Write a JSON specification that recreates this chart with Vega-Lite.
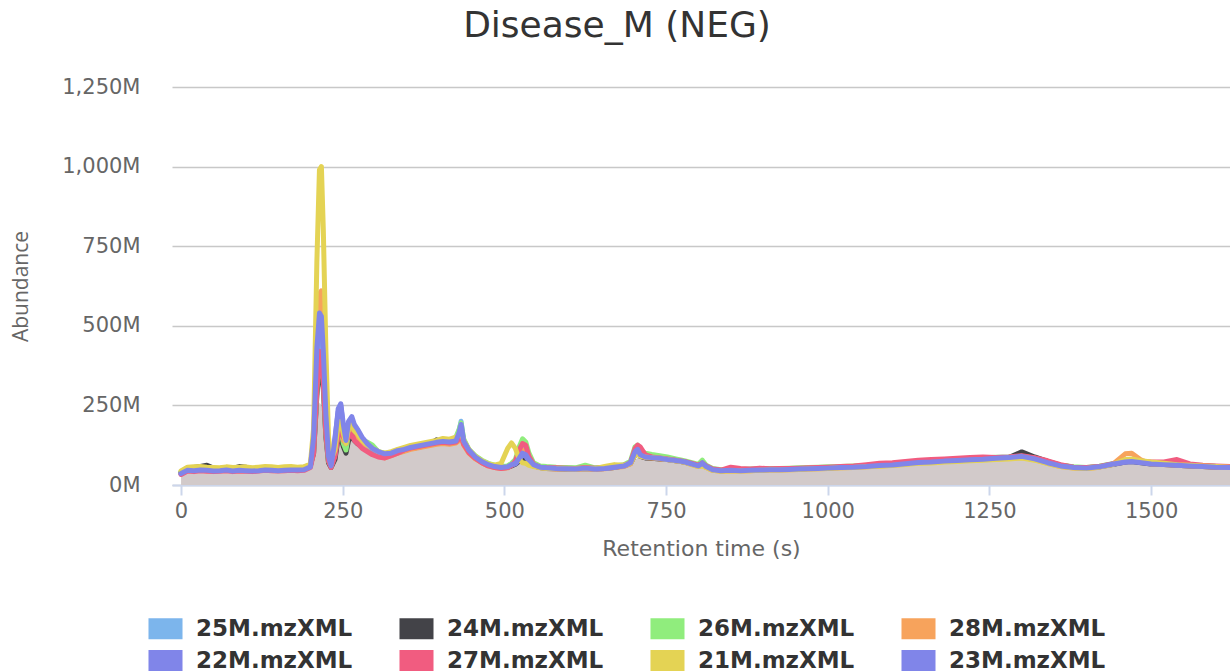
{
  "$schema": "https://vega.github.io/schema/vega-lite/v6.json",
  "width": 1058,
  "height": 398,
  "autosize": {"type": "none"},
  "padding": {"left": 172, "top": 87, "right": 0, "bottom": 186},
  "background": "white",
  "config": {"view": {"stroke": null}},
  "title": {"text": "Disease_M (NEG)", "font": "DejaVu Sans", "fontSize": 36, "fontWeight": "normal", "color": "#333333", "anchor": "middle", "dx": -84, "offset": 31},
  "data": {"values": [
    {"t":0,"25M":38,"24M":40,"26M":42,"28M":36,"22M":35,"27M":33,"21M":44,"23M":36,"area":30},
    {"t":10,"25M":50,"24M":52,"26M":53,"28M":48,"22M":47,"27M":44,"21M":56,"23M":46,"area":41},
    {"t":20,"25M":48,"24M":55,"26M":52,"28M":47,"22M":46,"27M":42,"21M":57,"23M":45,"area":39},
    {"t":30,"25M":52,"24M":58,"26M":54,"28M":49,"22M":48,"27M":45,"21M":58,"23M":47,"area":42},
    {"t":40,"25M":49,"24M":62,"26M":52,"28M":48,"22M":47,"27M":43,"21M":56,"23M":46,"area":40},
    {"t":50,"25M":47,"24M":53,"26M":50,"28M":46,"22M":45,"27M":42,"21M":55,"23M":44,"area":39},
    {"t":60,"25M":49,"24M":52,"26M":51,"28M":47,"22M":46,"27M":43,"21M":54,"23M":45,"area":40},
    {"t":70,"25M":51,"24M":55,"26M":53,"28M":50,"22M":48,"27M":45,"21M":57,"23M":47,"area":42},
    {"t":80,"25M":48,"24M":52,"26M":50,"28M":47,"22M":46,"27M":42,"21M":55,"23M":44,"area":39},
    {"t":90,"25M":50,"24M":58,"26M":52,"28M":49,"22M":47,"27M":44,"21M":56,"23M":46,"area":41},
    {"t":100,"25M":49,"24M":56,"26M":51,"28M":48,"22M":46,"27M":43,"21M":57,"23M":45,"area":40},
    {"t":110,"25M":47,"24M":51,"26M":50,"28M":46,"22M":45,"27M":42,"21M":54,"23M":44,"area":39},
    {"t":120,"25M":49,"24M":52,"26M":52,"28M":48,"22M":46,"27M":44,"21M":56,"23M":45,"area":41},
    {"t":130,"25M":51,"24M":54,"26M":53,"28M":50,"22M":48,"27M":46,"21M":58,"23M":47,"area":43},
    {"t":140,"25M":50,"24M":53,"26M":52,"28M":49,"22M":47,"27M":45,"21M":57,"23M":46,"area":42},
    {"t":150,"25M":49,"24M":52,"26M":51,"28M":48,"22M":46,"27M":44,"21M":55,"23M":45,"area":41},
    {"t":160,"25M":50,"24M":54,"26M":52,"28M":49,"22M":47,"27M":45,"21M":57,"23M":46,"area":42},
    {"t":170,"25M":51,"24M":55,"26M":53,"28M":50,"22M":48,"27M":46,"21M":58,"23M":47,"area":43},
    {"t":180,"25M":50,"24M":53,"26M":52,"28M":50,"22M":48,"27M":45,"21M":56,"23M":47,"area":42},
    {"t":190,"25M":51,"24M":55,"26M":53,"28M":51,"22M":49,"27M":46,"21M":57,"23M":48,"area":43},
    {"t":200,"25M":60,"24M":62,"26M":60,"28M":62,"22M":58,"27M":55,"21M":66,"23M":57,"area":50},
    {"t":205,"25M":120,"24M":100,"26M":110,"28M":140,"22M":130,"27M":100,"21M":180,"23M":150,"area":80},
    {"t":210,"25M":330,"24M":280,"26M":300,"28M":450,"22M":420,"27M":300,"21M":700,"23M":430,"area":200},
    {"t":214,"25M":450,"24M":380,"26M":420,"28M":600,"22M":530,"27M":420,"21M":990,"23M":540,"area":260},
    {"t":217,"25M":440,"24M":360,"26M":400,"28M":610,"22M":520,"27M":400,"21M":1000,"23M":530,"area":250},
    {"t":220,"25M":350,"24M":300,"26M":320,"28M":480,"22M":420,"27M":320,"21M":800,"23M":420,"area":200},
    {"t":224,"25M":180,"24M":150,"26M":160,"28M":250,"22M":230,"27M":160,"21M":420,"23M":220,"area":120},
    {"t":228,"25M":80,"24M":70,"26M":75,"28M":100,"22M":90,"27M":75,"21M":150,"23M":90,"area":62},
    {"t":232,"25M":60,"24M":55,"26M":58,"28M":65,"22M":62,"27M":55,"21M":80,"23M":60,"area":50},
    {"t":238,"25M":90,"24M":80,"26M":95,"28M":100,"22M":150,"27M":90,"21M":110,"23M":140,"area":75},
    {"t":243,"25M":180,"24M":150,"26M":170,"28M":170,"22M":230,"27M":160,"21M":190,"23M":240,"area":130},
    {"t":247,"25M":200,"24M":150,"26M":180,"28M":180,"22M":250,"27M":170,"21M":200,"23M":255,"area":140},
    {"t":251,"25M":150,"24M":120,"26M":130,"28M":140,"22M":180,"27M":150,"21M":160,"23M":190,"area":115},
    {"t":255,"25M":120,"24M":100,"26M":110,"28M":130,"22M":130,"27M":140,"21M":130,"23M":140,"area":100},
    {"t":259,"25M":170,"24M":140,"26M":160,"28M":160,"22M":190,"27M":150,"21M":180,"23M":200,"area":130},
    {"t":264,"25M":190,"24M":150,"26M":180,"28M":170,"22M":200,"27M":160,"21M":190,"23M":215,"area":140},
    {"t":268,"25M":170,"24M":140,"26M":160,"28M":150,"22M":180,"27M":140,"21M":170,"23M":190,"area":135},
    {"t":273,"25M":160,"24M":130,"26M":150,"28M":140,"22M":170,"27M":130,"21M":160,"23M":175,"area":125},
    {"t":280,"25M":140,"24M":120,"26M":140,"28M":125,"22M":145,"27M":115,"21M":140,"23M":150,"area":112},
    {"t":288,"25M":125,"24M":110,"26M":135,"28M":110,"22M":125,"27M":105,"21M":125,"23M":130,"area":102},
    {"t":296,"25M":110,"24M":100,"26M":125,"28M":100,"22M":110,"27M":95,"21M":115,"23M":115,"area":92},
    {"t":305,"25M":100,"24M":95,"26M":105,"28M":90,"22M":100,"27M":88,"21M":105,"23M":105,"area":85},
    {"t":315,"25M":95,"24M":90,"26M":100,"28M":85,"22M":95,"27M":85,"21M":100,"23M":98,"area":82},
    {"t":325,"25M":100,"24M":95,"26M":102,"28M":92,"22M":98,"27M":92,"21M":105,"23M":100,"area":88},
    {"t":335,"25M":108,"24M":102,"26M":110,"28M":100,"22M":105,"27M":100,"21M":112,"23M":108,"area":96},
    {"t":345,"25M":112,"24M":108,"26M":114,"28M":106,"22M":112,"27M":110,"21M":118,"23M":112,"area":102},
    {"t":355,"25M":118,"24M":115,"26M":120,"28M":112,"22M":118,"27M":116,"21M":124,"23M":118,"area":108},
    {"t":365,"25M":122,"24M":118,"26M":125,"28M":116,"22M":122,"27M":120,"21M":128,"23M":122,"area":112},
    {"t":375,"25M":125,"24M":122,"26M":128,"28M":120,"22M":126,"27M":124,"21M":132,"23M":126,"area":116},
    {"t":385,"25M":130,"24M":128,"26M":132,"28M":124,"22M":130,"27M":128,"21M":136,"23M":130,"area":120},
    {"t":395,"25M":135,"24M":142,"26M":136,"28M":128,"22M":134,"27M":132,"21M":140,"23M":134,"area":124},
    {"t":405,"25M":138,"24M":135,"26M":140,"28M":130,"22M":137,"27M":134,"21M":146,"23M":137,"area":126},
    {"t":415,"25M":136,"24M":134,"26M":138,"28M":128,"22M":135,"27M":132,"21M":144,"23M":135,"area":124},
    {"t":425,"25M":140,"24M":138,"26M":150,"28M":132,"22M":138,"27M":135,"21M":150,"23M":138,"area":128},
    {"t":430,"25M":170,"24M":150,"26M":175,"28M":140,"22M":160,"27M":145,"21M":160,"23M":165,"area":132},
    {"t":433,"25M":200,"24M":160,"26M":195,"28M":150,"22M":185,"27M":155,"21M":170,"23M":190,"area":135},
    {"t":437,"25M":140,"24M":130,"26M":145,"28M":125,"22M":135,"27M":128,"21M":140,"23M":138,"area":120},
    {"t":445,"25M":110,"24M":105,"26M":112,"28M":100,"22M":108,"27M":102,"21M":112,"23M":110,"area":96},
    {"t":455,"25M":90,"24M":85,"26M":92,"28M":82,"22M":88,"27M":84,"21M":90,"23M":88,"area":78},
    {"t":465,"25M":75,"24M":72,"26M":78,"28M":70,"22M":74,"27M":70,"21M":76,"23M":74,"area":66},
    {"t":475,"25M":65,"24M":62,"26M":68,"28M":60,"22M":64,"27M":60,"21M":66,"23M":64,"area":56},
    {"t":485,"25M":60,"24M":57,"26M":62,"28M":55,"22M":58,"27M":55,"21M":62,"23M":58,"area":51},
    {"t":495,"25M":56,"24M":54,"26M":58,"28M":52,"22M":55,"27M":52,"21M":68,"23M":55,"area":48},
    {"t":505,"25M":58,"24M":55,"26M":60,"28M":54,"22M":56,"27M":55,"21M":115,"23M":57,"area":50},
    {"t":511,"25M":65,"24M":60,"26M":68,"28M":62,"22M":62,"27M":62,"21M":132,"23M":64,"area":56},
    {"t":517,"25M":70,"24M":65,"26M":80,"28M":70,"22M":66,"27M":75,"21M":115,"23M":68,"area":61},
    {"t":523,"25M":95,"24M":75,"26M":120,"28M":90,"22M":80,"27M":110,"21M":80,"23M":85,"area":68},
    {"t":528,"25M":120,"24M":85,"26M":145,"28M":110,"22M":95,"27M":130,"21M":70,"23M":100,"area":66},
    {"t":533,"25M":110,"24M":80,"26M":135,"28M":100,"22M":90,"27M":125,"21M":68,"23M":95,"area":64},
    {"t":538,"25M":85,"24M":70,"26M":100,"28M":80,"22M":75,"27M":90,"21M":62,"23M":80,"area":58},
    {"t":545,"25M":68,"24M":60,"26M":70,"28M":64,"22M":62,"27M":65,"21M":58,"23M":64,"area":54},
    {"t":555,"25M":58,"24M":55,"26M":60,"28M":55,"22M":55,"27M":56,"21M":54,"23M":56,"area":50},
    {"t":565,"25M":55,"24M":52,"26M":58,"28M":52,"22M":53,"27M":54,"21M":52,"23M":54,"area":48},
    {"t":580,"25M":54,"24M":51,"26M":56,"28M":50,"22M":52,"27M":54,"21M":52,"23M":52,"area":46},
    {"t":595,"25M":53,"24M":50,"26M":55,"28M":50,"22M":51,"27M":53,"21M":51,"23M":51,"area":46},
    {"t":610,"25M":52,"24M":50,"26M":54,"28M":49,"22M":50,"27M":52,"21M":50,"23M":50,"area":45},
    {"t":625,"25M":55,"24M":52,"26M":62,"28M":52,"22M":53,"27M":55,"21M":53,"23M":53,"area":48},
    {"t":640,"25M":52,"24M":50,"26M":54,"28M":49,"22M":50,"27M":53,"21M":51,"23M":50,"area":45},
    {"t":655,"25M":54,"24M":52,"26M":56,"28M":51,"22M":52,"27M":54,"21M":58,"23M":52,"area":47},
    {"t":670,"25M":58,"24M":55,"26M":60,"28M":55,"22M":56,"27M":58,"21M":64,"23M":56,"area":51},
    {"t":685,"25M":62,"24M":60,"26M":64,"28M":58,"22M":60,"27M":62,"21M":62,"23M":60,"area":54},
    {"t":695,"25M":72,"24M":68,"26M":75,"28M":66,"22M":70,"27M":70,"21M":68,"23M":70,"area":62},
    {"t":702,"25M":110,"24M":95,"26M":120,"28M":100,"22M":105,"27M":115,"21M":95,"23M":105,"area":80},
    {"t":706,"25M":120,"24M":100,"26M":125,"28M":105,"22M":110,"27M":125,"21M":100,"23M":112,"area":85},
    {"t":710,"25M":100,"24M":90,"26M":105,"28M":92,"22M":95,"27M":120,"21M":90,"23M":95,"area":84},
    {"t":718,"25M":90,"24M":85,"26M":100,"28M":86,"22M":88,"27M":95,"21M":88,"23M":88,"area":81},
    {"t":728,"25M":88,"24M":84,"26M":96,"28M":85,"22M":86,"27M":88,"21M":86,"23M":86,"area":80},
    {"t":740,"25M":85,"24M":82,"26M":92,"28M":82,"22M":84,"27M":85,"21M":84,"23M":84,"area":78},
    {"t":752,"25M":82,"24M":80,"26M":88,"28M":80,"22M":80,"27M":82,"21M":80,"23M":80,"area":76},
    {"t":765,"25M":78,"24M":76,"26M":82,"28M":76,"22M":77,"27M":78,"21M":76,"23M":77,"area":72},
    {"t":778,"25M":74,"24M":72,"26M":76,"28M":72,"22M":73,"27M":74,"21M":72,"23M":73,"area":68},
    {"t":790,"25M":68,"24M":66,"26M":70,"28M":64,"22M":66,"27M":68,"21M":64,"23M":66,"area":60},
    {"t":800,"25M":62,"24M":60,"26M":65,"28M":58,"22M":60,"27M":62,"21M":58,"23M":60,"area":54},
    {"t":806,"25M":72,"24M":64,"26M":78,"28M":62,"22M":70,"27M":68,"21M":60,"23M":68,"area":56},
    {"t":812,"25M":60,"24M":58,"26M":62,"28M":55,"22M":58,"27M":60,"21M":55,"23M":58,"area":51},
    {"t":822,"25M":50,"24M":48,"26M":52,"28M":46,"22M":48,"27M":50,"21M":46,"23M":48,"area":42},
    {"t":835,"25M":46,"24M":45,"26M":48,"28M":43,"22M":45,"27M":47,"21M":43,"23M":45,"area":39},
    {"t":850,"25M":48,"24M":46,"26M":50,"28M":44,"22M":47,"27M":56,"21M":44,"23M":46,"area":40},
    {"t":865,"25M":47,"24M":46,"26M":49,"28M":44,"22M":46,"27M":52,"21M":44,"23M":45,"area":40},
    {"t":880,"25M":48,"24M":47,"26M":50,"28M":45,"22M":47,"27M":50,"21M":45,"23M":46,"area":41},
    {"t":895,"25M":49,"24M":48,"26M":51,"28M":46,"22M":48,"27M":53,"21M":46,"23M":47,"area":42},
    {"t":910,"25M":50,"24M":49,"26M":52,"28M":47,"22M":49,"27M":51,"21M":47,"23M":48,"area":43},
    {"t":925,"25M":50,"24M":49,"26M":52,"28M":47,"22M":49,"27M":52,"21M":47,"23M":48,"area":43},
    {"t":940,"25M":51,"24M":50,"26M":53,"28M":48,"22M":50,"27M":52,"21M":48,"23M":49,"area":44},
    {"t":955,"25M":52,"24M":51,"26M":54,"28M":49,"22M":51,"27M":53,"21M":49,"23M":50,"area":45},
    {"t":970,"25M":53,"24M":52,"26M":55,"28M":50,"22M":52,"27M":54,"21M":50,"23M":51,"area":46},
    {"t":985,"25M":54,"24M":53,"26M":56,"28M":51,"22M":53,"27M":55,"21M":51,"23M":52,"area":47},
    {"t":1000,"25M":55,"24M":54,"26M":57,"28M":52,"22M":54,"27M":56,"21M":52,"23M":53,"area":48},
    {"t":1020,"25M":57,"24M":56,"26M":58,"28M":54,"22M":56,"27M":58,"21M":54,"23M":55,"area":50},
    {"t":1040,"25M":58,"24M":57,"26M":60,"28M":55,"22M":57,"27M":60,"21M":55,"23M":56,"area":51},
    {"t":1060,"25M":60,"24M":59,"26M":62,"28M":57,"22M":59,"27M":64,"21M":57,"23M":58,"area":53},
    {"t":1080,"25M":63,"24M":62,"26M":65,"28M":60,"22M":62,"27M":68,"21M":59,"23M":61,"area":55},
    {"t":1100,"25M":65,"24M":64,"26M":67,"28M":62,"22M":64,"27M":70,"21M":61,"23M":63,"area":57},
    {"t":1120,"25M":70,"24M":68,"26M":71,"28M":66,"22M":68,"27M":74,"21M":64,"23M":67,"area":60},
    {"t":1140,"25M":74,"24M":72,"26M":75,"28M":70,"22M":72,"27M":78,"21M":68,"23M":71,"area":64},
    {"t":1160,"25M":75,"24M":74,"26M":76,"28M":71,"22M":74,"27M":80,"21M":69,"23M":72,"area":65},
    {"t":1180,"25M":78,"24M":80,"26M":79,"28M":74,"22M":77,"27M":82,"21M":72,"23M":75,"area":68},
    {"t":1200,"25M":80,"24M":78,"26M":81,"28M":76,"22M":78,"27M":84,"21M":74,"23M":77,"area":70},
    {"t":1220,"25M":82,"24M":80,"26M":83,"28M":78,"22M":80,"27M":86,"21M":76,"23M":79,"area":72},
    {"t":1240,"25M":84,"24M":82,"26M":85,"28M":80,"22M":82,"27M":88,"21M":78,"23M":81,"area":74},
    {"t":1260,"25M":86,"24M":84,"26M":87,"28M":82,"22M":84,"27M":86,"21M":80,"23M":84,"area":76},
    {"t":1280,"25M":88,"24M":86,"26M":88,"28M":84,"22M":86,"27M":88,"21M":82,"23M":86,"area":78},
    {"t":1300,"25M":92,"24M":104,"26M":90,"28M":86,"22M":90,"27M":92,"21M":85,"23M":90,"area":81},
    {"t":1320,"25M":84,"24M":88,"26M":84,"28M":80,"22M":82,"27M":86,"21M":78,"23M":82,"area":74},
    {"t":1340,"25M":72,"24M":74,"26M":72,"28M":68,"22M":70,"27M":76,"21M":67,"23M":70,"area":63},
    {"t":1360,"25M":62,"24M":62,"26M":62,"28M":58,"22M":60,"27M":64,"21M":58,"23M":60,"area":54},
    {"t":1380,"25M":56,"24M":56,"26M":57,"28M":53,"22M":55,"27M":56,"21M":53,"23M":55,"area":49},
    {"t":1400,"25M":54,"24M":54,"26M":55,"28M":52,"22M":53,"27M":55,"21M":52,"23M":53,"area":48},
    {"t":1420,"25M":58,"24M":57,"26M":59,"28M":56,"22M":57,"27M":58,"21M":56,"23M":57,"area":52},
    {"t":1440,"25M":66,"24M":64,"26M":67,"28M":64,"22M":65,"27M":66,"21M":64,"23M":65,"area":60},
    {"t":1460,"25M":74,"24M":72,"26M":75,"28M":98,"22M":72,"27M":74,"21M":80,"23M":72,"area":68},
    {"t":1470,"25M":76,"24M":74,"26M":77,"28M":100,"22M":74,"27M":76,"21M":82,"23M":74,"area":70},
    {"t":1485,"25M":72,"24M":70,"26M":73,"28M":78,"22M":72,"27M":74,"21M":76,"23M":70,"area":66},
    {"t":1500,"25M":68,"24M":66,"26M":69,"28M":66,"22M":68,"27M":72,"21M":72,"23M":66,"area":62},
    {"t":1520,"25M":66,"24M":64,"26M":67,"28M":64,"22M":65,"27M":72,"21M":68,"23M":64,"area":60},
    {"t":1540,"25M":64,"24M":62,"26M":65,"28M":62,"22M":63,"27M":80,"21M":64,"23M":62,"area":58},
    {"t":1560,"25M":62,"24M":60,"26M":63,"28M":60,"22M":61,"27M":66,"21M":62,"23M":60,"area":56},
    {"t":1580,"25M":60,"24M":58,"26M":61,"28M":58,"22M":59,"27M":62,"21M":60,"23M":58,"area":54},
    {"t":1600,"25M":58,"24M":56,"26M":59,"28M":56,"22M":57,"27M":60,"21M":58,"23M":56,"area":52},
    {"t":1622,"25M":57,"24M":55,"26M":58,"28M":55,"22M":56,"27M":58,"21M":56,"23M":55,"area":51}
  ]},
  "encoding": {
    "x": {"field": "t", "type": "quantitative",
      "scale": {"domain": [-14, 1622], "nice": false, "zero": false},
      "axis": {"title": "Retention time (s)", "values": [0, 250, 500, 750, 1000, 1250, 1500], "format": "d",
        "grid": false, "domainColor": "#ccd6eb", "tickColor": "#ccd6eb", "tickSize": 10, "tickWidth": 2, "domainWidth": 2,
        "labelFont": "DejaVu Sans", "labelFontSize": 21, "labelColor": "#666666", "labelPadding": 5,
        "titleFont": "DejaVu Sans", "titleFontSize": 22, "titleFontWeight": "normal", "titleColor": "#666666", "titlePadding": 17}}
  },
  "layer": [
    {"mark": {"type": "area", "color": "#d2caca", "opacity": 1},
     "encoding": {"y": {"field": "area", "type": "quantitative"}}},
    {"transform": [{"fold": ["25M", "24M", "26M", "28M", "22M", "27M", "21M", "23M"], "as": ["series", "value"]}],
     "mark": {"type": "line", "strokeWidth": 5, "strokeJoin": "round", "strokeCap": "round"},
     "encoding": {
       "y": {"field": "value", "type": "quantitative",
         "scale": {"domain": [0, 1250], "nice": false},
         "axis": {"title": "Abundance", "values": [0, 250, 500, 750, 1000, 1250],
           "labelExpr": "datum.value == 0 ? '0M' : format(datum.value, ',') + 'M'",
           "domain": false, "ticks": false, "grid": true, "gridColor": "#c8c8c8", "gridWidth": 1.5,
           "labelFont": "DejaVu Sans", "labelFontSize": 21, "labelColor": "#666666", "labelPadding": 32,
           "titleFont": "Open Sans", "titleFontSize": 21, "titleFontWeight": "normal", "titleColor": "#666666", "titlePadding": 30}},
       "color": {"field": "series", "type": "nominal",
         "scale": {"domain": ["25M", "24M", "26M", "28M", "22M", "27M", "21M", "23M"],
                   "range": ["#7cb5ec", "#434348", "#90ed7d", "#f7a35c", "#8085e9", "#f15c80", "#e4d354", "#8085e9"]},
         "legend": {"title": null, "orient": "none", "legendX": -18, "legendY": 530, "direction": "horizontal", "columns": 4,
           "symbolType": "M-1.62,-1H1.62V1H-1.62Z", "symbolSize": 441, "symbolStrokeWidth": 0,
           "labelExpr": "datum.label + '.mzXML'",
           "labelFont": "DejaVu Sans", "labelFontSize": 23, "labelFontWeight": "bold", "labelColor": "#333333",
           "labelOffset": 19, "columnPadding": 46, "rowPadding": 8,
           "encode": {"symbols": {"update": {"fill": {"scale": "color", "field": "value"}, "strokeWidth": {"value": 0}, "opacity": {"value": 1}}}}}}
     }}
  ]
}
